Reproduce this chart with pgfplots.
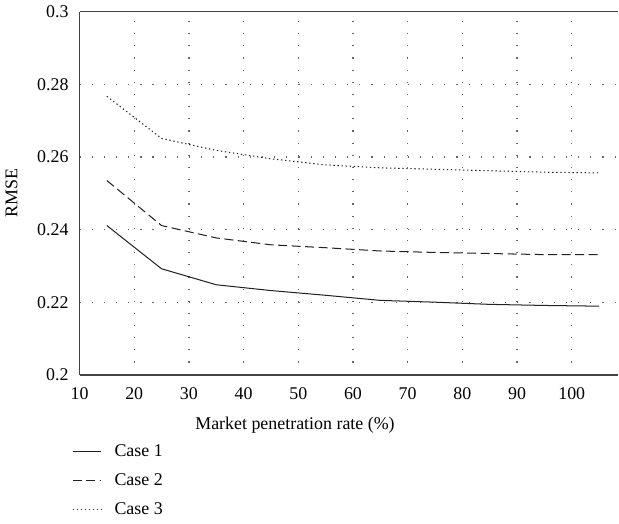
\documentclass[border=0pt]{standalone}
\usepackage{fontspec}
\setmainfont{Liberation Serif}
\usepackage{pgfplots}
\pgfplotsset{compat=1.18}
\definecolor{cline}{HTML}{222222}
\definecolor{caxis}{HTML}{444444}
\newcommand{\chartfont}{\fontsize{10.6pt}{12.5pt}\selectfont}
\begin{document}
\begin{tikzpicture}
\begin{axis}[
  scale only axis,
  width=319pt, height=215pt,
  xmin=10, xmax=108.5,
  ymin=0.2, ymax=0.3,
  xtick={10,20,30,40,50,60,70,80,90,100},
  ytick={0.2,0.22,0.24,0.26,0.28,0.3},
  yticklabels={0.2,0.22,0.24,0.26,0.28,0.3},
  axis lines*=left,
  axis line style={caxis, line width=0.9pt},
  major tick length=0pt,
  grid=major,
  grid style={dash pattern=on 0.7pt off 6.5pt, black!60, line width=0.7pt},
  /pgf/number format/assume math mode=true,
  tick label style={font=\chartfont},
  label style={font=\chartfont},
  yticklabel style={xshift=-3pt},
  xticklabel style={yshift=-4pt},
  xlabel={Market penetration rate (\%)},
  ylabel={RMSE},
  xlabel style={at={(axis description cs:0.40,-0.139)}, anchor=center},
  ylabel style={at={(axis description cs:-0.126,0.5)}, anchor=center, rotate=0},
  legend style={at={(axis description cs:-0.024,-0.172)}, anchor=north west,
    draw=none, fill=none, row sep=4.6pt, column sep=5.5pt, font=\chartfont},
  legend cell align={left},
  every axis plot/.append style={line width=0.6pt, cline},
  clip=false,
]
\addplot[solid] coordinates {
  (15,0.2411) (25,0.2292) (35,0.2248) (45,0.2232) (55,0.2219)
  (65,0.2205) (75,0.2200) (85,0.2194) (95,0.2191) (105,0.2189)
};
\addlegendentry{Case 1}
\addplot[dash pattern=on 5.4pt off 2.6pt] coordinates {
  (15,0.2535) (25,0.2411) (35,0.2377) (45,0.2358) (55,0.2350)
  (65,0.2341) (75,0.2337) (85,0.2334) (95,0.2331) (105,0.2331)
};
\addlegendentry{Case 2}
\addplot[dash pattern=on 0.8pt off 1.6pt] coordinates {
  (15,0.2767) (25,0.2651) (35,0.2618) (45,0.2595) (55,0.2578)
  (65,0.2570) (75,0.2566) (85,0.2562) (95,0.2558) (105,0.2556)
};
\addlegendentry{Case 3}
\draw[caxis, line width=0.9pt] (rel axis cs:0,1) -- (rel axis cs:1,1);
\end{axis}
\end{tikzpicture}
\end{document}
